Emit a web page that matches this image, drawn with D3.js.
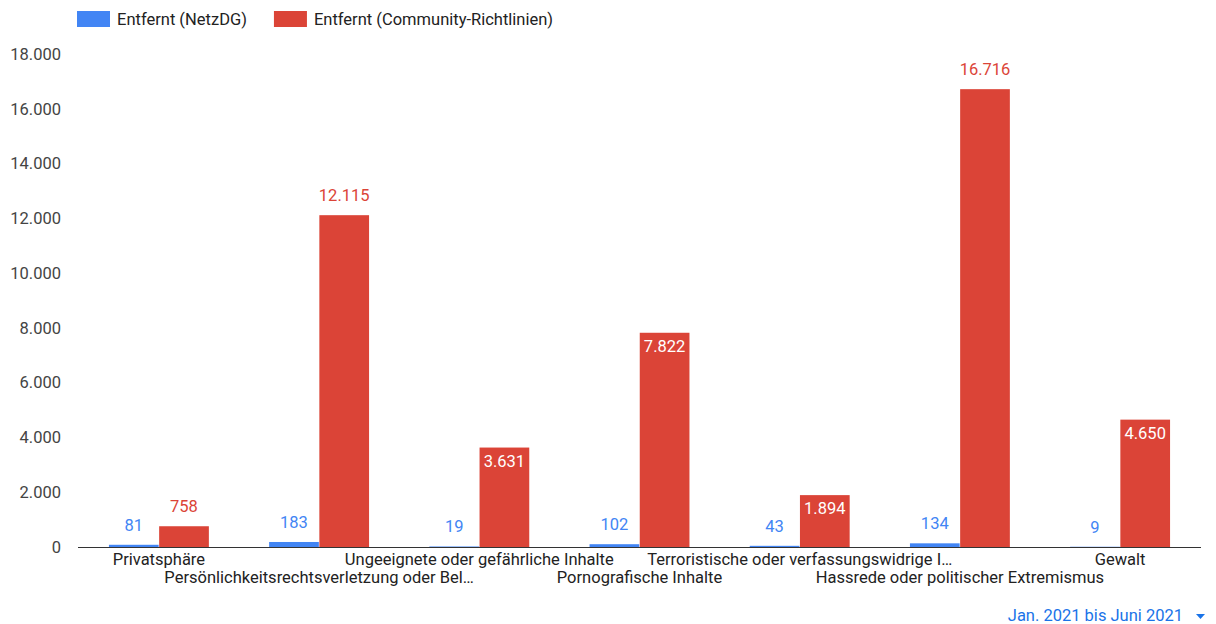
<!DOCTYPE html>
<html>
<head>
<meta charset="utf-8">
<script src="https://cdn.jsdelivr.net/npm/d3@7"></script>
<style>
  html, body { margin: 0; padding: 0; background: #fff; }
  svg { display: block; font-family: Roboto, "Noto Sans", Arial, sans-serif; }
</style>
</head>
<body>
<svg id="chart" width="1216" height="624"></svg>
<script>
// Removal counts by category, Jan–Jun 2021
const categories = [
  "Privatsphäre",
  "Persönlichkeitsrechtsverletzung oder Bel…",
  "Ungeeignete oder gefährliche Inhalte",
  "Pornografische Inhalte",
  "Terroristische oder verfassungswidrige I…",
  "Hassrede oder politischer Extremismus",
  "Gewalt"
];
const seriesNames = ["Entfernt (NetzDG)", "Entfernt (Community-Richtlinien)"];
const netzdgValues = [81, 183, 19, 102, 43, 134, 9];
const communityValues = [758, 12115, 3631, 7822, 1894, 16716, 4650];
const yTicks = [0, 2000, 4000, 6000, 8000, 10000, 12000, 14000, 16000, 18000];
const periodLabel = "Jan. 2021 bis Juni 2021";

const colors = ["#4285F4", "#DB4437"];
const fmt = d3.formatLocale({ decimal: ",", thousands: ".", grouping: [3], currency: ["", "€"] }).format(",d");

const svg = d3.select("#chart");
const FS = "16.5px";
const margin = { left: 78, top: 54 };
const baseY = 547;

const x = d3.scaleBand().domain(categories).range([margin.left, 1201]).paddingInner(0.37).paddingOuter(0.19);
const xs = d3.scaleBand().domain([0, 1]).range([0, x.bandwidth()]).padding(0.01);
const y = d3.scaleLinear().domain([0, 18000]).range([baseY, margin.top]);

// y axis labels (no gridlines)
const yAxis = svg.append("g").attr("transform", `translate(${margin.left},0)`)
  .call(d3.axisLeft(y).tickValues(yTicks).tickFormat(fmt).tickSize(0).tickPadding(17));
yAxis.select(".domain").remove();
yAxis.selectAll("text").attr("fill", "#444").style("font-size", FS).style("font-family", "Roboto");

// bars
const rows = categories.map((c, i) => ({ c, vals: [netzdgValues[i], communityValues[i]] }));
const groups = svg.append("g").selectAll("g").data(rows).join("g")
  .attr("transform", d => `translate(${x(d.c)},0)`);

groups.selectAll("rect").data(d => d.vals.map((v, s) => ({ v, s }))).join("rect")
  .attr("x", d => xs(d.s))
  .attr("width", xs.bandwidth())
  .attr("y", d => y(d.v))
  .attr("height", d => baseY - y(d.v))
  .attr("fill", d => colors[d.s]);

// value labels: inside the bar top in white when they fit, otherwise above in series colour
groups.selectAll("text.val").data(d => d.vals.map((v, s) => ({ v, s }))).join("text")
  .attr("class", "val")
  .attr("text-anchor", "middle")
  .style("font-size", FS)
  .text(d => fmt(d.v))
  .each(function (d) {
    const t = d3.select(this);
    const tw = this.getComputedTextLength();
    const h = baseY - y(d.v);
    const inside = tw + 4 < xs.bandwidth() && h > 26;
    t.attr("x", xs(d.s) + xs.bandwidth() / 2)
     .attr("y", inside ? y(d.v) + 19 : y(d.v) - 14)
     .attr("fill", inside ? "#fff" : colors[d.s]);
  });

// x axis baseline
svg.append("line").attr("x1", margin.left).attr("x2", 1201).attr("y1", baseY + 0.5).attr("y2", baseY + 0.5)
  .attr("stroke", "#333").attr("stroke-width", 1);

// category labels, staggered over two rows
svg.append("g").selectAll("text").data(categories).join("text")
  .attr("x", d => x(d) + x.bandwidth() / 2)
  .attr("y", (d, i) => baseY + (i % 2 === 0 ? 18 : 36))
  .attr("text-anchor", "middle")
  .attr("fill", "#222")
  .style("font-size", FS)
  .text(d => d);

// legend
const legend = svg.append("g").attr("transform", "translate(77,11)");
let lx = 0;
seriesNames.forEach((name, i) => {
  const g = legend.append("g").attr("transform", `translate(${lx},0)`);
  g.append("rect").attr("width", 33).attr("height", 16).attr("fill", colors[i]);
  const t = g.append("text").attr("x", 40).attr("y", 14).attr("fill", "#222").style("font-size", FS).text(name);
  lx += 40 + t.node().getComputedTextLength() + 27;
});

// period selector
const sel = svg.append("g");
sel.append("text").attr("x", 1183).attr("y", 621).attr("text-anchor", "end")
  .attr("fill", "#1a73e8").style("font-size", FS).text(periodLabel);
sel.append("path").attr("d", "M1196,614 L1205,614 L1200.5,619 Z").attr("fill", "#1a73e8");
</script>
</body>
</html>
